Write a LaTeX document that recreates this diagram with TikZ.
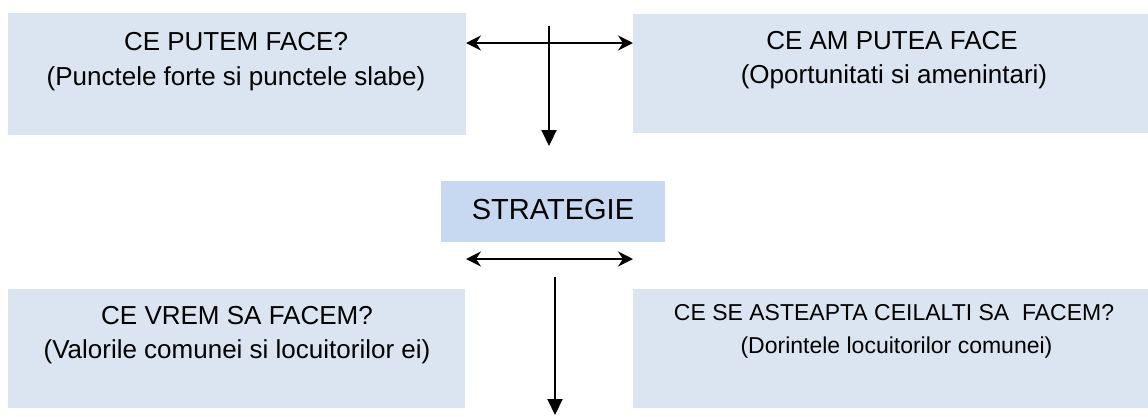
\documentclass[tikz,border=0pt]{standalone}
\usepackage{fontspec}
\setmainfont{Liberation Sans}
\usetikzlibrary{arrows.meta}
\definecolor{boxlight}{HTML}{DBE5F1}
\definecolor{boxmid}{HTML}{C6D9F1}
\begin{document}
\begin{tikzpicture}[x=1pt,y=-1pt,
  panel/.style={fill=boxlight, draw=none, inner sep=0pt, outer sep=0pt},
  line/.style={anchor=base, inner sep=0pt, text=black, font=\fontsize{26pt}{30pt}\selectfont},
  smallline/.style={anchor=base, inner sep=0pt, text=black, font=\fontsize{23pt}{27pt}\selectfont},
  twohead/.style={line width=2pt, {Stealth[length=15pt,width=15pt,inset=5pt]}-{Stealth[length=15pt,width=15pt,inset=5pt]}},
  downarrow/.style={line width=2pt, -{Triangle[length=16pt,width=15pt]}}]
\useasboundingbox (0,0) rectangle (1148,416);
% boxes
\node[panel, minimum width=458pt, minimum height=122pt] (tl) at (237,74) {};
\node[panel, minimum width=515pt, minimum height=119pt] (tr) at (890.5,73.5) {};
\node[panel, fill=boxmid, minimum width=224pt, minimum height=61pt] (st) at (553,211.5) {};
\node[panel, minimum width=457pt, minimum height=119pt] (bl) at (236.5,348.5) {};
\node[panel, minimum width=515pt, minimum height=119pt] (br) at (890.5,348.5) {};
% texts
\node[line] (tl1) at (236,50.7) {CE PUTEM FACE?};
\node[line] (tl2) at (236,85) {(Punctele forte si punctele slabe)};
\node[line] (tr1) at (892,49.3) {CE AM PUTEA FACE};
\node[line] (tr2) at (894,83) {(Oportunitati si amenintari)};
\node[anchor=base, inner sep=0pt, font=\fontsize{29pt}{33pt}\selectfont] (stt) at (553,219.3) {STRATEGIE};
\node[line] (bl1) at (237,324) {CE VREM SA FACEM?};
\node[line] (bl2) at (237,358) {(Valorile comunei si locuitorilor ei)};
\node[smallline] (br1) at (894,320.7) {CE SE ASTEAPTA CEILALTI SA\ \ FACEM?};
\node[smallline] (br2) at (896.5,353.5) {(Dorintele locuitorilor comunei)};
% connectors
\coordinate (vt1) at (549,26);
\coordinate (vt2) at (549,146);
\coordinate (hl) at (466,259);
\coordinate (hr) at (633,259);
\coordinate (vb1) at (555,277);
\coordinate (vb2) at (555,415);
\draw[twohead] (tl.east |- 0,43) -- (tr.west |- 0,43);
\draw[downarrow] (vt1) -- (vt2);
\draw[twohead] (hl) -- (hr);
\draw[downarrow] (vb1) -- (vb2);
\end{tikzpicture}
\end{document}
